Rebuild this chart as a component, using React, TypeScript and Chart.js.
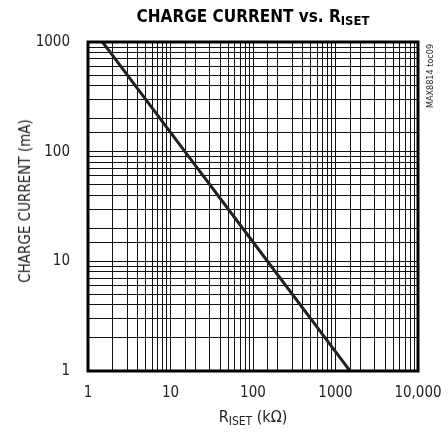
import React, { useEffect, useRef } from "react";
import { Chart, registerables } from "chart.js";

Chart.register(...registerables);

const resistanceKOhm = [1.5, 10, 100, 1000, 1500];
const chargeCurrentMA = [1000, 150, 15, 1.5, 1];
const xMajorTicks = [1, 10, 100, 1000, 10000];
const xTickLabels = ["1", "10", "100", "1000", "10,000"];
const yMajorTicks = [1, 10, 100, 1000];
const yTickLabels = ["1", "10", "100", "1000"];

const FONT = '"Liberation Sans Narrow", "Arial Narrow", "DejaVu Sans Condensed", sans-serif';

const framePlugin = {
  id: "frame",
  afterDraw(chart: any) {
    const { ctx, chartArea } = chart;
    ctx.save();
    ctx.strokeStyle = "#000";
    ctx.lineWidth = 3;
    ctx.strokeRect(chartArea.left, chartArea.top, chartArea.right - chartArea.left, chartArea.bottom - chartArea.top);
    ctx.restore();
  },
};

export default function App() {
  const ref = useRef<HTMLCanvasElement>(null);
  useEffect(() => {
    if (!ref.current) return;
    const data = resistanceKOhm.map((x, i) => ({ x, y: chargeCurrentMA[i] }));
    const chart = new Chart(ref.current, {
      type: "line",
      data: {
        datasets: [
          {
            data,
            borderColor: "#222",
            borderWidth: 3,
            pointRadius: 0,
            tension: 0,
          },
        ],
      },
      options: {
        animation: false,
        responsive: false,
        maintainAspectRatio: false,
        layout: { padding: { left: 0, top: 42, right: 30, bottom: 0 } },
        plugins: { legend: { display: false }, tooltip: { enabled: false }, title: { display: false } },
        scales: {
          x: {
            type: "logarithmic",
            min: 1,
            max: 10000,
            border: { display: false },
            grid: { color: "#111", lineWidth: 1, drawTicks: false },
            afterFit: (s: any) => {
              s.height = 61;
              s.paddingLeft = 0;
              s.paddingRight = 0;
            },
            ticks: {
              autoSkip: false,
              maxRotation: 0,
              padding: 13,
              color: "#222",
              font: { family: FONT, size: 15 },
              callback: (v: any) => {
                const i = xMajorTicks.indexOf(Number(v));
                return i >= 0 ? xTickLabels[i] : "";
              },
            },
          },
          y: {
            type: "logarithmic",
            min: 1,
            max: 1000,
            border: { display: false },
            grid: { color: "#111", lineWidth: 1, drawTicks: false },
            afterFit: (s: any) => {
              s.width = 88;
              s.paddingTop = 0;
              s.paddingBottom = 0;
            },
            ticks: {
              autoSkip: false,
              padding: 18,
              color: "#222",
              font: { family: FONT, size: 15 },
              callback: (v: any) => {
                const i = yMajorTicks.indexOf(Number(v));
                return i >= 0 ? yTickLabels[i] : "";
              },
            },
          },
        },
      },
      plugins: [framePlugin],
    } as any);
    return () => chart.destroy();
  }, []);

  return (
    <div style={{ position: "fixed", left: 0, top: 0, width: 448, height: 432, background: "#fff", fontFamily: FONT, color: "#222" }}>
      <canvas ref={ref} width={448} height={432} style={{ position: "absolute", left: 0, top: 0 }} />
      <div style={{ position: "absolute", left: 88, width: 330, top: 6, textAlign: "center", fontWeight: "bold", fontSize: 17, whiteSpace: "nowrap", color: "#000" }}>
        CHARGE CURRENT vs. R<sub style={{ fontSize: 13, verticalAlign: "-3px" }}>ISET</sub>
      </div>
      <div style={{ position: "absolute", left: 88, width: 330, top: 407, textAlign: "center", fontSize: 16, whiteSpace: "nowrap" }}>
        R<sub style={{ fontSize: 12, verticalAlign: "-3px" }}>ISET</sub> (kΩ)
      </div>
      <div style={{ position: "absolute", left: 25, top: 201, transform: "translate(-50%, -50%) rotate(-90deg)", fontSize: 15, whiteSpace: "nowrap" }}>
        CHARGE CURRENT (mA)
      </div>
      <div style={{ position: "absolute", left: 430, top: 76, transform: "translate(-50%, -50%) rotate(-90deg)", fontSize: 9, whiteSpace: "nowrap" }}>
        MAX8814 toc09
      </div>
    </div>
  );
}
